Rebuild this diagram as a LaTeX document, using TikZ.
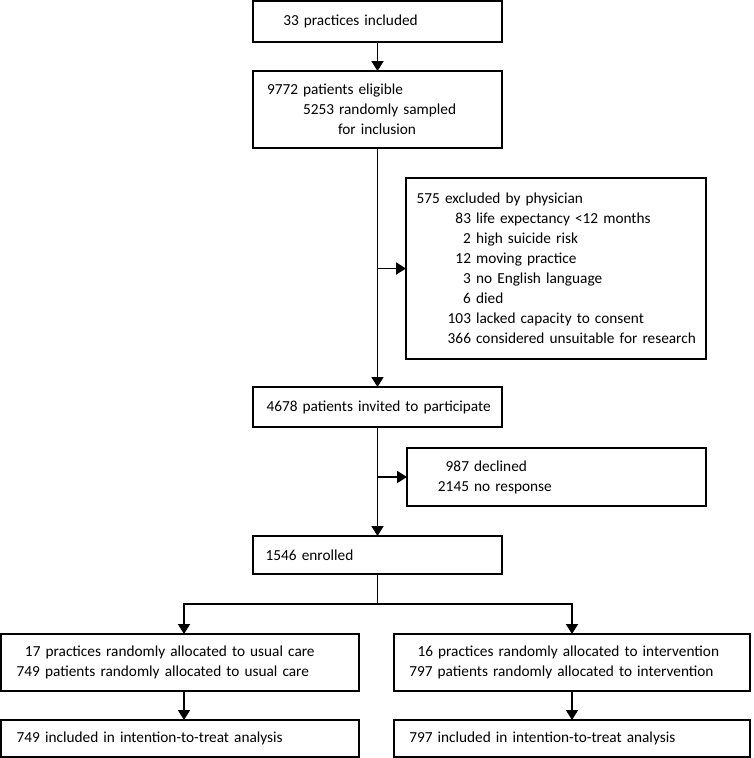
\documentclass[tikz,border=0pt]{standalone}
\usepackage{fontspec}
\setmainfont{Carlito}
\usetikzlibrary{arrows.meta,calc}
\begin{document}
\begin{tikzpicture}[x=1pt,y=-1pt,
  box/.style={draw=black, line width=1.7pt, inner sep=0pt, outer sep=0pt,
    anchor=north west, align=left, font=\fontsize{15.3}{20}\selectfont},
  arr/.style={line width=1.8pt, -{Triangle[width=12pt,length=10pt]}},
  ln/.style={line width=1.8pt}]
\useasboundingbox (0,0) rectangle (753,758);
\node[box, text width=249pt, minimum height=41pt] (b1) at (253,1)
  {\hspace*{30.3pt}33 practices included};
\node[box, text width=249pt, minimum height=77pt] (b2) at (253,71)
  {\hspace*{14pt}9772 patients eligible\\
   \hspace*{50pt}5253 randomly sampled\\
   \hspace*{85pt}for inclusion};
\node[box, text width=300pt, minimum height=181pt] (excl) at (406,178)
  {\hspace*{10.7pt}575 excluded by physician\\
   \makebox[65pt][r]{83} life expectancy <12 months\\
   \makebox[65pt][r]{2} high suicide risk\\
   \makebox[65pt][r]{12} moving practice\\
   \makebox[65pt][r]{3} no English language\\
   \makebox[65pt][r]{6} died\\
   \makebox[65pt][r]{103} lacked capacity to consent\\
   \makebox[65pt][r]{366} considered unsuitable for research};
\node[box, text width=249pt, minimum height=40pt] (inv) at (253,387)
  {\hspace*{13.5pt}4678 patients invited to participate};
\node[box, text width=299pt, minimum height=58pt] (decl) at (407,448)
  {\makebox[62pt][r]{987} declined\\
   \makebox[62pt][r]{2145} no response};
\node[box, text width=249pt, minimum height=38pt] (enr) at (253,536)
  {\hspace*{12.7pt}1546 enrolled};
\node[box, text width=358pt, minimum height=57pt] (usual) at (1,634)
  {\hspace*{24pt}17 practices randomly allocated to usual care\\
   \hspace*{15.7pt}749 patients randomly allocated to usual care};
\node[box, text width=356pt, minimum height=57pt] (interv) at (394,634)
  {\hspace*{23.5pt}16 practices randomly allocated to intervention\\
   \hspace*{15.3pt}797 patients randomly allocated to intervention};
\node[box, text width=358pt, minimum height=37pt] (ittL) at (1,720)
  {\hspace*{15.7pt}749 included in intention-to-treat analysis};
\node[box, text width=356pt, minimum height=37pt] (ittR) at (394,720)
  {\hspace*{15.3pt}797 included in intention-to-treat analysis};
\draw[arr] (b1.south) -- (b2.north);
\draw[arr] (b2.south) -- (inv.north);
\draw[arr] (b2.south |- excl.west) -- (excl.west);
\draw[arr] (inv.south) -- (enr.north);
\draw[arr] (inv.south |- decl.west) -- (decl.west);
\coordinate (split) at ($(enr.south)+(0,30)$);
\draw[ln] (enr.south) -- (split);
\draw[arr] (split) -| ([xshift=4pt]usual.north);
\draw[arr] (split) -| (interv.north);
\draw[arr] ([xshift=4pt]usual.south) -- ([xshift=4pt]ittL.north);
\draw[arr] (interv.south) -- (ittR.north);
\end{tikzpicture}
\end{document}
